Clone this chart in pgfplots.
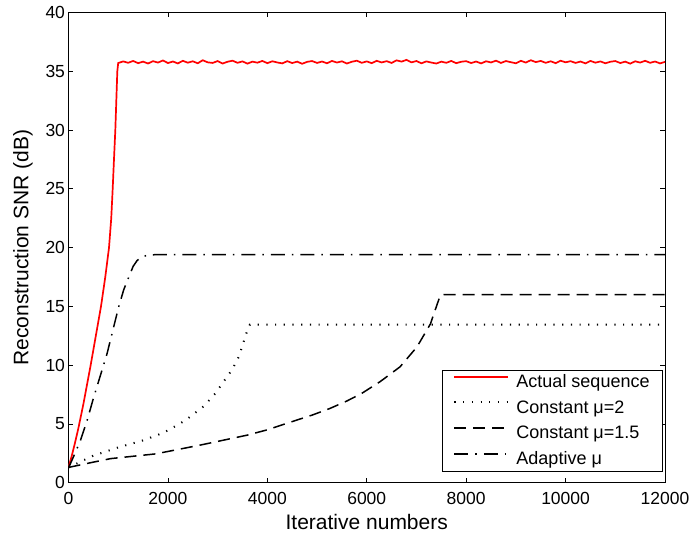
\documentclass[border=0pt]{standalone}
\usepackage{fontspec}
\setmainfont{Liberation Sans}
\usepackage{pgfplots}
\pgfplotsset{compat=1.18}
\begin{document}
\begin{tikzpicture}
\useasboundingbox (-68.5pt,-57.3pt) rectangle (623.5pt,482.7pt);
\begin{axis}[
  at={(0pt,0pt)}, anchor=south west,
  scale only axis, width=596.5pt, height=470.2pt,
  xmin=0, xmax=12000, ymin=0, ymax=40,
  xtick={0,2000,...,12000}, ytick={0,5,...,40},
  scaled x ticks=false,
  /pgf/number format/assume math mode=true,
  /pgf/number format/1000 sep={},
  tick align=inside, major tick length=5pt,
  axis line style={line width=1pt},
  every tick/.style={black, line width=0.8pt},
  tick label style={font=\fontsize{17.5}{20}\selectfont},
  xticklabel style={yshift=-6pt},
  label style={font=\fontsize{21}{24}\selectfont},
  xlabel={Iterative numbers}, ylabel={Reconstruction SNR (dB)},
  xlabel style={at={(axis description cs:0.5,-0.0985)}, anchor=base},
  ylabel style={at={(axis description cs:-0.0674,0.5)}, anchor=base},
  legend style={at={(axis description cs:0.9961,0.0221)}, anchor=south east,
    draw=black, line width=1pt, inner xsep=10.7pt, inner ysep=3.6pt,
    font=\fontsize{18}{20}\selectfont, row sep=9pt, column sep=7pt,
    nodes={inner sep=0pt, text height=12.9pt, text depth=3.8pt}},
  legend cell align=left,
  legend image code/.code={\draw[#1] (0pt,6pt) -- (54pt,6pt);},
]
\addplot[red, line width=1.7pt] coordinates {
(0,1.3)(60,2.2)(120,3.2)(197,4.6)(300,6.7)(446,10)(550,12.5)(654,15)(740,17.5)(815,20)(860,22.5)(889,25)(915,27.5)(942,30)(962,32.5)(982,35)
(1000,35.70)(1100,35.84)(1200,35.72)(1300,35.88)(1400,35.69)(1500,35.82)(1600,35.66)(1700,35.86)(1800,35.74)(1900,35.92)
(2000,35.70)(2100,35.83)(2200,35.67)(2300,35.89)(2400,35.73)(2500,35.85)(2600,35.68)(2700,35.94)(2800,35.76)(2900,35.71)
(3000,35.87)(3100,35.66)(3200,35.81)(3300,35.90)(3400,35.72)(3500,35.84)(3600,35.65)(3700,35.82)(3800,35.73)(3900,35.88)
(4000,35.69)(4100,35.85)(4200,35.75)(4300,35.67)(4400,35.86)(4500,35.70)(4600,35.82)(4700,35.64)(4800,35.80)(4900,35.87)
(5000,35.71)(5100,35.83)(5200,35.68)(5300,35.88)(5400,35.74)(5500,35.85)(5600,35.66)(5700,35.81)(5800,35.90)(5900,35.72)
(6000,35.84)(6100,35.69)(6200,35.89)(6300,35.75)(6400,35.86)(6500,35.71)(6600,35.93)(6700,35.82)(6800,35.97)(6900,35.76)
(7000,35.87)(7100,35.68)(7200,35.84)(7300,35.74)(7400,35.66)(7500,35.82)(7600,35.72)(7700,35.88)(7800,35.69)(7900,35.81)
(8000,35.86)(8100,35.70)(8200,35.83)(8300,35.67)(8400,35.85)(8500,35.75)(8600,35.90)(8700,35.71)(8800,35.87)(8900,35.77)
(9000,35.68)(9100,35.89)(9200,35.74)(9300,35.94)(9400,35.78)(9500,35.88)(9600,35.72)(9700,35.85)(9800,35.69)(9900,35.90)
(10000,35.76)(10100,35.86)(10200,35.71)(10300,35.83)(10400,35.67)(10500,35.88)(10600,35.73)(10700,35.84)(10800,35.68)(10900,35.81)
(11000,35.87)(11100,35.70)(11200,35.82)(11300,35.65)(11400,35.85)(11500,35.74)(11600,35.89)(11700,35.72)(11800,35.83)(11900,35.67)
(12000,35.80)
};
\addlegendentry{\makebox[135pt][l]{Actual sequence}}
\addplot[black, line width=2pt, dash pattern=on 1.2pt off 7.5pt] coordinates {
(0,1.3)(250,1.8)(500,2.3)(1000,3.0)(1500,3.6)(1850,4.15)(2000,4.45)(2350,5.3)(2720,6.5)(2955,7.6)(3120,8.6)(3290,9.6)(3425,10.7)(3525,12.0)(3600,13.0)(3650,13.45)(12000,13.45)
};
\addlegendentry{Constant μ=2}
\addplot[black, line width=1.5pt, dash pattern=on 12pt off 7pt] coordinates {
(0,1.3)(500,1.75)(850,2.05)(1300,2.25)(1750,2.45)(2650,3.2)(3600,4.05)(4000,4.5)(4500,5.2)(4900,5.75)(5250,6.3)(5600,6.95)(5900,7.6)(6270,8.6)(6670,9.86)(7010,11.55)(7280,13.5)(7410,15.1)(7480,15.95)(7550,16.0)(12000,16.0)
};
\addlegendentry{Constant μ=1.5}
\addplot[black, line width=1.5pt, dash pattern=on 14pt off 7pt on 1.5pt off 7pt] coordinates {
(0,1.3)(26,1.5)(120,2.4)(241,3.6)(375,5.3)(509,7.3)(640,9.1)(777,11.0)(900,13.1)(1012,15.0)(1110,16.4)(1213,17.5)(1300,18.4)(1380,18.9)(1470,19.2)(1615,19.38)(1800,19.4)(12000,19.4)
};
\addlegendentry{Adaptive μ}
\end{axis}
\end{tikzpicture}
\end{document}
